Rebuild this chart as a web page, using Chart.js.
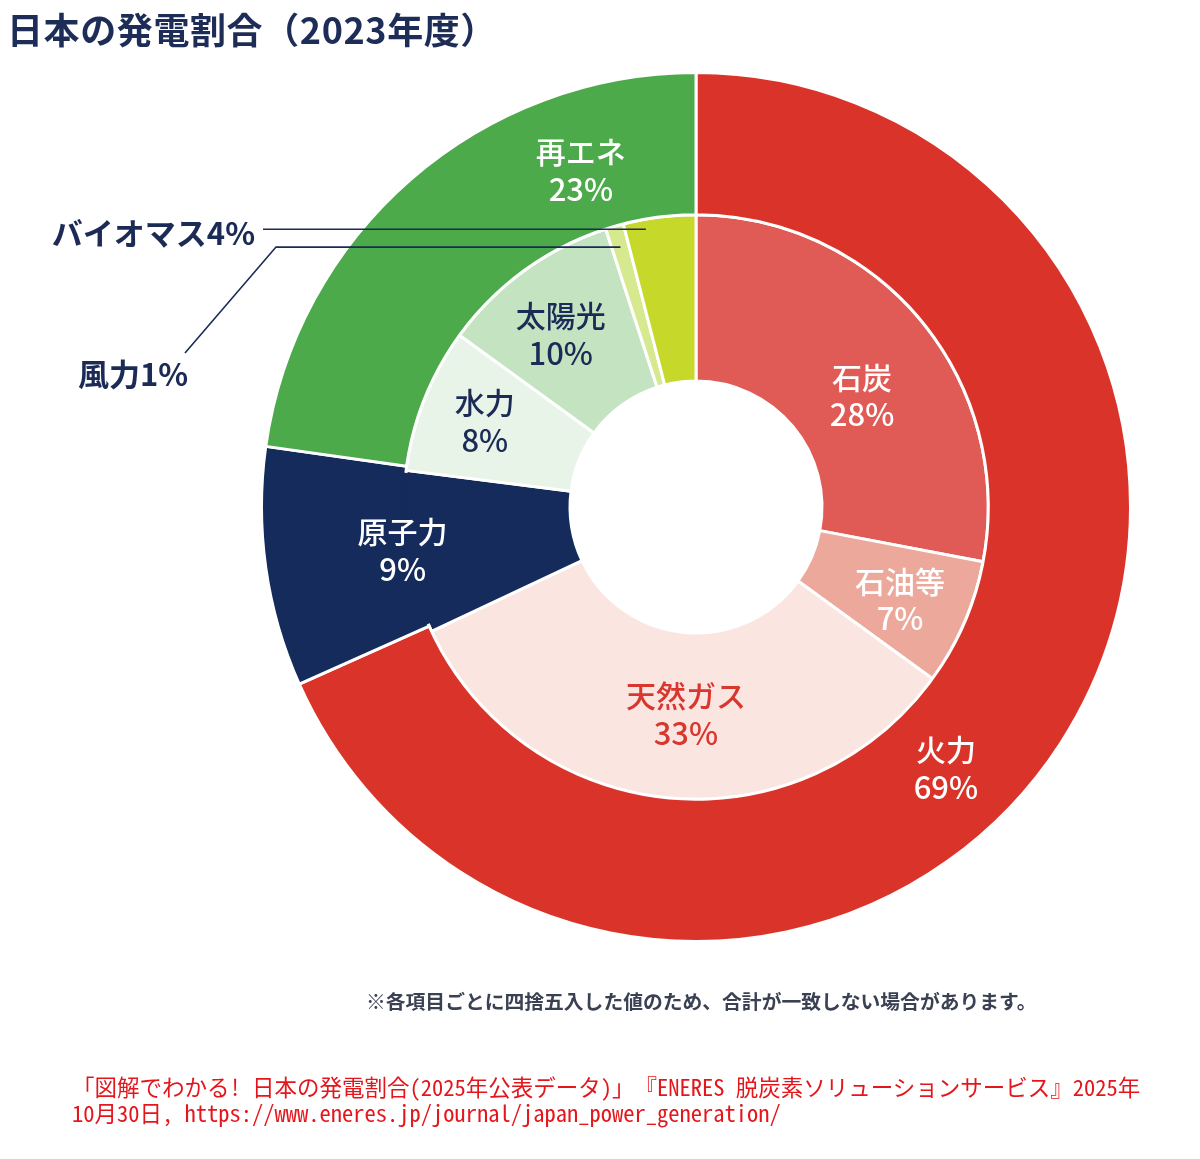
<!DOCTYPE html>
<html lang="ja">
<head>
    <meta charset="UTF-8">
    <title>日本の発電割合（2023年度）</title>
    <script src="https://cdn.jsdelivr.net/npm/chart.js"></script>
    <style>
        body {
            margin: 0;
            background: #fff;
            font-family: "Noto Sans CJK JP", sans-serif;
        }

        .page {
            position: relative;
            width: 1200px;
            height: 1159px;
            overflow: hidden;
        }

        #powerChart {
            position: absolute;
            left: 0;
            top: 0;
        }

        .title {
            position: absolute;
            left: 7px;
            top: 0px;
            font-size: 36px;
            line-height: 56px;
            font-weight: 700;
            letter-spacing: 0.6px;
            color: #1d2d57;
            white-space: nowrap;
        }

        .note {
            position: absolute;
            left: 366px;
            top: 986px;
            font-size: 19.8px;
            font-weight: 700;
            color: #3a4152;
            white-space: nowrap;
        }

        .source {
            position: absolute;
            left: 72px;
            top: 1073px;
            font-size: 22.5px;
            line-height: 26px;
            color: #e4161c;
            font-feature-settings: "hwid";
            white-space: nowrap;
        }
    </style>
</head>
<body>
<div class="page">
    <canvas id="powerChart" width="1200" height="1159"></canvas>
    <div class="title">日本の発電割合（2023年度）</div>
    <div class="note">※各項目ごとに四捨五入した値のため、合計が一致しない場合があります。</div>
    <div class="source">「図解でわかる！ 日本の発電割合（2025年公表データ）」『ENERES 脱炭素ソリューションサービス』2025年<br>10月30日, https://www.eneres.jp/journal/japan_power_generation/</div>
</div>

<script>
    // outer ring: 火力 / 原子力 / 再エネ
    const outerLabels = ['火力', '原子力', '再エネ'];
    const outerValues = [69, 9, 23];
    const outerColors = ['#da3329', '#142b5c', '#4caa4b'];

    // inner ring: breakdown
    const innerLabels = ['石炭', '石油等', '天然ガス', '原子力', '水力', '太陽光', '風力', 'バイオマス'];
    const innerValues = [28, 7, 33, 9, 8, 10, 1, 4];
    const innerColors = ['#e05b56', '#eba89b', '#fbe5e1', '#142b5c', '#e9f4e8', '#c3e3c1', '#d6e98e', '#c6d92b'];

    const NAVY = '#1b2b55';

    // where each in-ring label sits inside its arc (angle fraction, radius fraction)
    const ringLabels = [
        { ds: 0, i: 0, frac: 0.554, rfrac: 0.486, color: '#ffffff' },
        { ds: 0, i: 1, frac: 0.49, rfrac: 0.03, color: '#ffffff' },
        { ds: 0, i: 2, frac: 0.77, rfrac: 0.45, color: '#ffffff' },
        { ds: 1, i: 0, frac: 0.556, rfrac: 0.446, color: '#ffffff' },
        { ds: 1, i: 1, frac: 0.536, rfrac: 0.589, color: '#ffffff' },
        { ds: 1, i: 2, frac: 0.478, rfrac: 0.489, color: '#d9362e' },
        { ds: 1, i: 4, frac: 0.52, rfrac: 0.614, color: NAVY },
        { ds: 1, i: 5, frac: 0.444, rfrac: 0.563, color: NAVY }
    ];

    // small slices get a leader line out to the left
    const callouts = [
        { ds: 1, i: 7, frac: 0.29, rfrac: 0.94, lineX: 263, textX: 255, textDy: 4, align: 'right' },
        { ds: 1, i: 6, frac: 0.5, rfrac: 0.87, lineX: 276, tailX: 185, tailY: 353, textX: 78, textY: 374, align: 'left' }
    ];

    const datasetLabels = [outerLabels, innerLabels];
    const datasetValues = [outerValues, innerValues];

    function pointInArc(arc, frac, rfrac) {
        const a = arc.startAngle + frac * (arc.endAngle - arc.startAngle);
        const r = arc.innerRadius + rfrac * (arc.outerRadius - arc.innerRadius);
        return { x: arc.x + r * Math.cos(a), y: arc.y + r * Math.sin(a) };
    }

    const labelPlugin = {
        id: 'ringText',
        afterDatasetsDraw(chart) {
            const ctx = chart.ctx;
            const outerNuke = chart.getDatasetMeta(0).data[1];
            const innerNuke = chart.getDatasetMeta(1).data[3];

            // join the two 原子力 arcs so they read as one block
            ctx.save();
            const pad = 2.5 / outerNuke.innerRadius;
            ctx.beginPath();
            ctx.arc(outerNuke.x, outerNuke.y, outerNuke.innerRadius,
                Math.max(outerNuke.startAngle, innerNuke.startAngle) + pad,
                Math.min(outerNuke.endAngle, innerNuke.endAngle) - pad);
            ctx.strokeStyle = outerColors[1];
            ctx.lineWidth = 6;
            ctx.stroke();
            ctx.restore();

            ctx.save();
            ctx.textAlign = 'center';
            ctx.textBaseline = 'middle';
            ctx.font = '500 30px "Noto Sans CJK JP"';
            ringLabels.forEach(l => {
                const arc = chart.getDatasetMeta(l.ds).data[l.i];
                const p = pointInArc(arc, l.frac, l.rfrac);
                ctx.fillStyle = l.color;
                ctx.fillText(datasetLabels[l.ds][l.i], p.x, p.y - 18);
                ctx.font = '500 31px "Noto Sans CJK JP"';
                ctx.fillText(datasetValues[l.ds][l.i] + '%', p.x, p.y + 19);
                ctx.font = '500 30px "Noto Sans CJK JP"';
            });
            ctx.restore();

            ctx.save();
            ctx.strokeStyle = NAVY;
            ctx.fillStyle = NAVY;
            ctx.lineWidth = 1.6;
            ctx.font = '700 31px "Noto Sans CJK JP"';
            ctx.textBaseline = 'middle';
            callouts.forEach(c => {
                const arc = chart.getDatasetMeta(c.ds).data[c.i];
                const p = pointInArc(arc, c.frac, c.rfrac);
                ctx.beginPath();
                ctx.moveTo(p.x, p.y);
                ctx.lineTo(c.lineX, p.y);
                if (c.tailX !== undefined) ctx.lineTo(c.tailX, c.tailY);
                ctx.stroke();
                ctx.textAlign = c.align;
                const ty = c.textY !== undefined ? c.textY : p.y + c.textDy;
                ctx.fillText(datasetLabels[c.ds][c.i] + datasetValues[c.ds][c.i] + '%', c.textX, ty);
            });
            ctx.restore();
        }
    };

    new Chart(document.getElementById('powerChart'), {
        type: 'doughnut',
        data: {
            labels: innerLabels,
            datasets: [
                {
                    label: '大分類',
                    data: outerValues,
                    backgroundColor: outerColors,
                    borderColor: '#ffffff',
                    borderWidth: 3,
                    weight: 142
                },
                {
                    label: '内訳',
                    data: innerValues,
                    backgroundColor: innerColors,
                    borderColor: '#ffffff',
                    borderWidth: 3,
                    weight: 166
                }
            ]
        },
        options: {
            responsive: false,
            animation: false,
            cutout: '29%',
            layout: {
                padding: { left: 260, top: 71, right: 68, bottom: 216 }
            },
            plugins: {
                legend: { display: false },
                tooltip: { enabled: false },
                title: { display: false }
            }
        },
        plugins: [labelPlugin]
    });
</script>
</body>
</html>
